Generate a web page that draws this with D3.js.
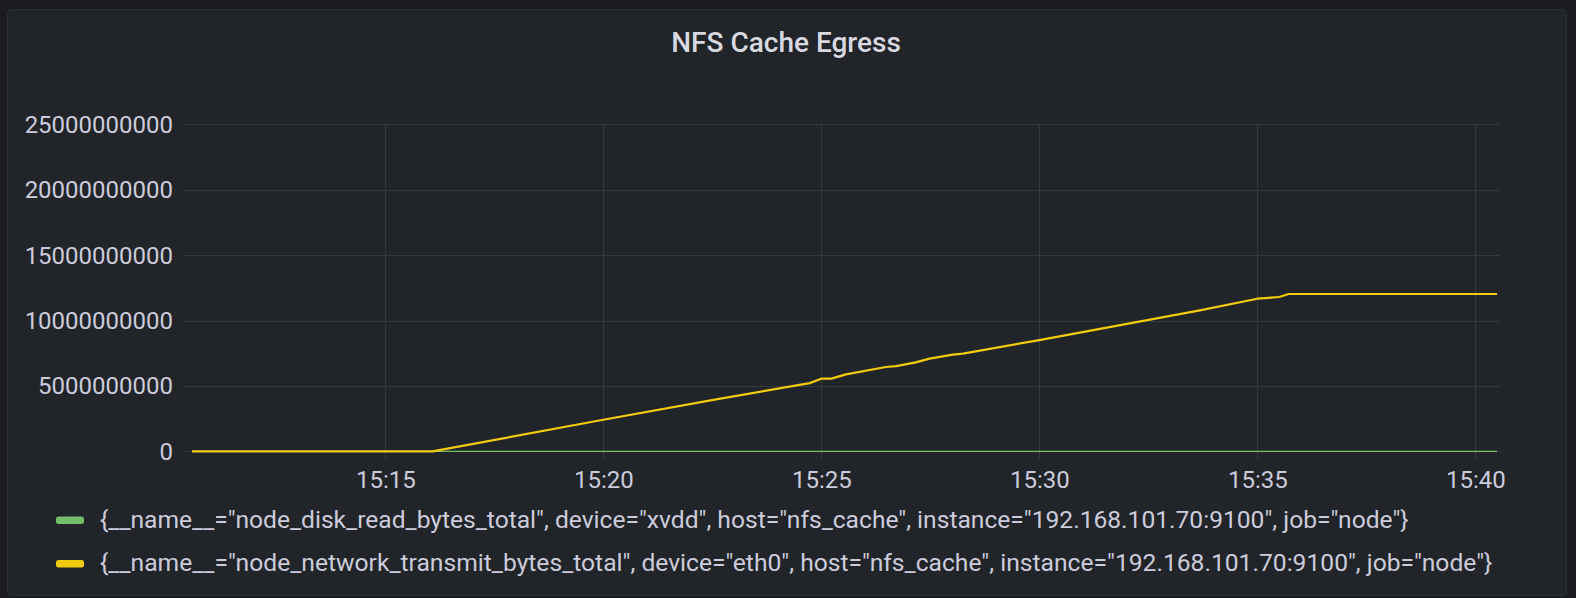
<!DOCTYPE html>
<html>
<head>
<meta charset="utf-8">
<script src="https://cdn.jsdelivr.net/npm/d3@7"></script>
<style>
  html, body { margin: 0; padding: 0; background: #1b1c20; }
  svg { display: block; }
  text { font-family: Roboto, "Noto Sans", sans-serif; }
</style>
</head>
<body>
<svg id="chart" width="1576" height="598"></svg>
<script>
// ---- data ----
const title = "NFS Cache Egress";
const yTicks = [0, 5000000000, 10000000000, 15000000000, 20000000000, 25000000000];
const xTickLabels = ["15:15", "15:20", "15:25", "15:30", "15:35", "15:40"];
const seriesNames = [
  '{__name__="node_disk_read_bytes_total", device="xvdd", host="nfs_cache", instance="192.168.101.70:9100", job="node"}',
  '{__name__="node_network_transmit_bytes_total", device="eth0", host="nfs_cache", instance="192.168.101.70:9100", job="node"}'
];
const seriesColors = ["#73bf69", "#f2cc0c"];
const diskTimes = ["15:10:34", "15:20:00", "15:30:00", "15:40:30"];
const diskValues = [0, 0, 0, 0];
const netTimes = ["15:10:34", "15:16:05", "15:20:00", "15:22:41", "15:24:44", "15:25:00", "15:25:14",
  "15:25:34", "15:26:29", "15:26:43", "15:27:10", "15:27:29", "15:28:01", "15:28:15", "15:30:00",
  "15:33:41", "15:35:00", "15:35:30", "15:35:43", "15:40:30"];
const netValues = [0, 0, 2.42e9, 4.03e9, 5.22e9, 5.56e9, 5.56e9,
  5.89e9, 6.45e9, 6.52e9, 6.80e9, 7.09e9, 7.39e9, 7.47e9, 8.51e9,
  10.78e9, 11.67e9, 11.80e9, 12.03e9, 12.03e9];
const xDomain = ["15:10:23", "15:40:34"];

// ---- helpers ----
const parseT = s => { const [h, m, sec] = s.split(":").map(Number); return new Date(2021, 0, 1, h, m, sec || 0); };

const svg = d3.select("#chart");

// panel
svg.append("rect").attr("x", 7.5).attr("y", 9.5).attr("width", 1559).attr("height", 586)
  .attr("rx", 4).attr("fill", "#212428").attr("stroke", "#2b2e33").attr("stroke-width", 1);

// title
svg.append("text").attr("x", 786).attr("y", 52).attr("text-anchor", "middle")
  .attr("font-size", 28).attr("font-weight", 500).attr("fill", "#d8d9e0").text(title);

const plot = { left: 184, right: 1500, top: 124.3, bottom: 451.4 };
const x = d3.scaleTime().domain(xDomain.map(parseT)).range([plot.left, plot.right]);
const y = d3.scaleLinear().domain([0, 25000000000]).range([plot.bottom, plot.top]);

const gridColor = "#35383d";

// horizontal gridlines + y labels
const yAxis = d3.axisLeft(y).tickValues(yTicks).tickSize(0).tickPadding(0)
  .tickFormat(d => d3.format("d")(d));
const gy = svg.append("g").attr("transform", `translate(${plot.left - 11},0)`).call(yAxis);
gy.select(".domain").remove();
gy.selectAll("text").attr("font-size", 24).attr("fill", "#ccccdc")
  .attr("font-family", "Roboto, sans-serif").attr("dy", "0.33em");
svg.append("g").selectAll("line").data(yTicks).join("line")
  .attr("x1", plot.left).attr("x2", plot.right)
  .attr("y1", d => Math.round(y(d)) + 0.5).attr("y2", d => Math.round(y(d)) + 0.5)
  .attr("stroke", gridColor).attr("stroke-width", 1);

// vertical gridlines + x labels
const xTickDates = xTickLabels.map(s => parseT(s + ":00"));
const xAxis = d3.axisBottom(x).tickValues(xTickDates).tickSize(0).tickPadding(0)
  .tickFormat(d3.timeFormat("%H:%M"));
const gx = svg.append("g").attr("transform", `translate(0,${plot.bottom + 37})`).call(xAxis);
gx.select(".domain").remove();
gx.selectAll("text").attr("font-size", 24).attr("fill", "#ccccdc")
  .attr("font-family", "Roboto, sans-serif").attr("dy", 0);
svg.append("g").selectAll("line").data(xTickDates).join("line")
  .attr("x1", d => Math.round(x(d)) + 0.5).attr("x2", d => Math.round(x(d)) + 0.5)
  .attr("y1", plot.top).attr("y2", plot.bottom + 8)
  .attr("stroke", gridColor).attr("stroke-width", 1);

// lines
const line = d3.line().x(d => x(d[0])).y(d => y(d[1])).curve(d3.curveLinear);
const diskData = diskTimes.map((t, i) => [parseT(t), diskValues[i]]);
const netData = netTimes.map((t, i) => [parseT(t), netValues[i]]);
svg.append("path").datum(diskData).attr("d", line).attr("fill", "none")
  .attr("stroke", seriesColors[0]).attr("stroke-width", 1.3);
svg.append("path").datum(netData).attr("d", line).attr("fill", "none")
  .attr("stroke", seriesColors[1]).attr("stroke-width", 2.2).attr("stroke-linejoin", "round");

// legend
const legendY = [520.3, 563.7];
const legendLen = [1309, 1393];
const lg = svg.append("g");
seriesNames.forEach((name, i) => {
  lg.append("rect").attr("x", 56).attr("y", legendY[i] - 3.7).attr("width", 28).attr("height", 7.4)
    .attr("rx", 2.5).attr("fill", seriesColors[i]);
  const t = lg.append("text").attr("x", 0).attr("y", 0).attr("font-size", 24)
    .attr("fill", "#ccccdc").text(name);
  const natural = t.node().getComputedTextLength();
  const sx = natural > 0 ? legendLen[i] / natural : 1;
  t.attr("transform", `translate(100,${legendY[i] + 7.3}) scale(${sx},1)`);
});
</script>
</body>
</html>
